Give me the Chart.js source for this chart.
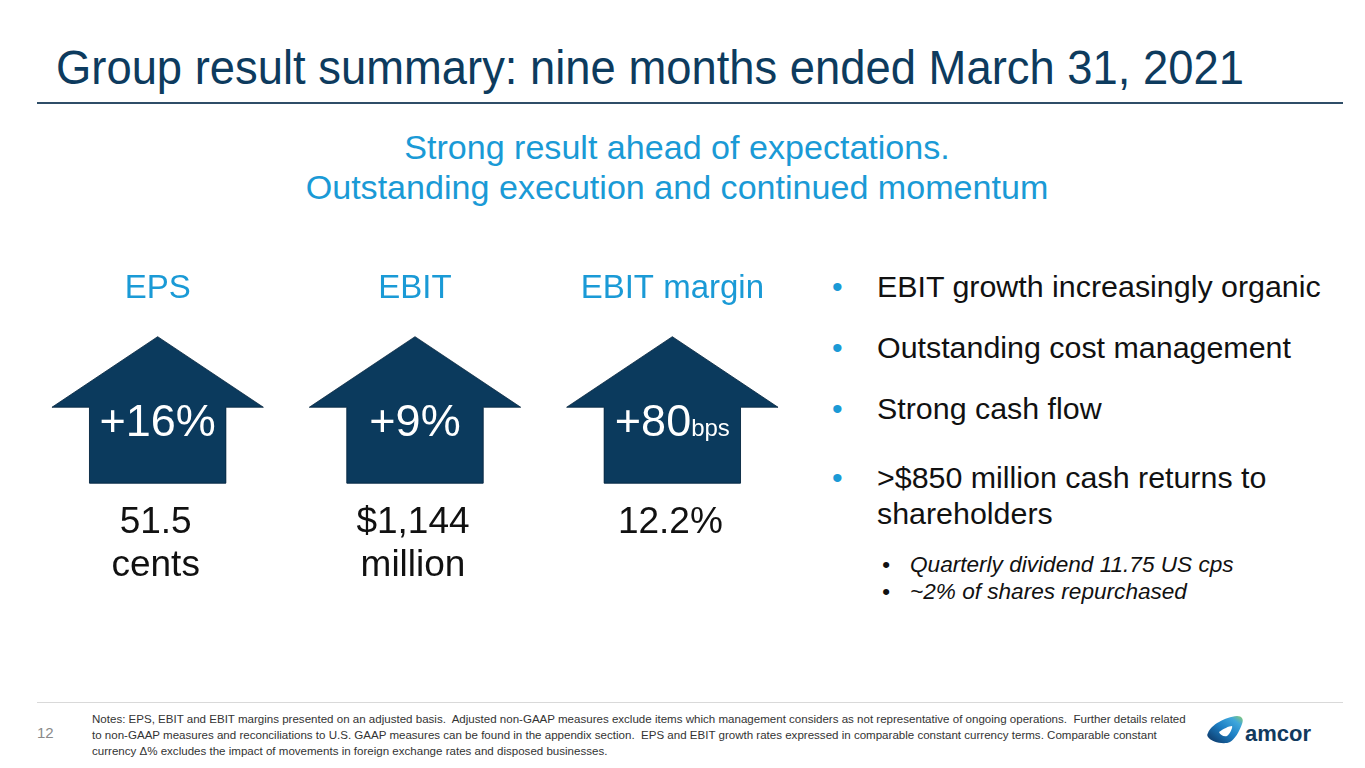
<!DOCTYPE html>
<html>
<head>
<meta charset="utf-8">
<script src="https://cdn.jsdelivr.net/npm/chart.js@4"></script>
<style>
  html, body { margin: 0; padding: 0; background: #fff; }
  body { width: 1365px; height: 768px; position: relative; overflow: hidden; font-family: "Liberation Sans", Arial, sans-serif; }
  .title { position: absolute; left: 56px; top: 39px; font-size: 49px; color: #0d3b5e; white-space: nowrap; transform: scaleX(0.926); transform-origin: left top; }
  .rule { position: absolute; left: 37px; width: 1306px; top: 102px; height: 2px; background: #2f4e68; }
  .subtitle { position: absolute; left: 0; width: 1354px; top: 127px; text-align: center; font-size: 34.1px; line-height: 40px; color: #1a9ad6; }
  .bullets { position: absolute; left: 832px; top: 268px; font-size: 30.4px; color: #111; }
  .bullets .b { position: absolute; left: 0; white-space: nowrap; }
  .bullets .dot { position: absolute; left: 0; color: #1a9ad6; line-height: 36px; }
  .bullets .txt { position: absolute; left: 45px; line-height: 36px; }
  .sub { position: absolute; left: 882px; font-size: 22.6px; line-height: 27px; font-style: italic; color: #111; white-space: nowrap; }
  .sub span { position: absolute; left: 28px; }
  .footrule { position: absolute; left: 37px; width: 1306px; top: 702px; height: 1px; background: #d9d9d9; }
  .page { position: absolute; left: 37px; top: 724px; font-size: 15px; color: #8a8a8a; }
  .notes { position: absolute; left: 92px; top: 711px; font-size: 11.55px; line-height: 16px; color: #333; white-space: nowrap; }
  .logo { position: absolute; left: 1205px; top: 712px; }
  #arrows { position: absolute; left: 29px; top: 269px; }
</style>
</head>
<body>
<div class="title">Group result summary: nine months ended March 31, 2021</div>
<div class="rule"></div>
<div class="subtitle">Strong result ahead of expectations.<br>Outstanding execution and continued momentum</div>

<canvas id="arrows" width="772" height="328"></canvas>

<div class="bullets">
  <div class="b" style="top:0"><span class="dot">•</span><span class="txt">EBIT growth increasingly organic</span></div>
  <div class="b" style="top:61px"><span class="dot">•</span><span class="txt">Outstanding cost management</span></div>
  <div class="b" style="top:122px"><span class="dot">•</span><span class="txt">Strong cash flow</span></div>
  <div class="b" style="top:191px"><span class="dot">•</span><span class="txt">&gt;$850 million cash returns to<br>shareholders</span></div>
</div>
<div class="sub" style="top:551px">•<span>Quarterly dividend 11.75 US cps</span></div>
<div class="sub" style="top:578px">•<span>~2% of shares repurchased</span></div>

<div class="footrule"></div>
<div class="page">12</div>
<div class="notes">Notes: EPS, EBIT and EBIT margins presented on an adjusted basis.&nbsp; Adjusted non-GAAP measures exclude items which management considers as not representative of ongoing operations.&nbsp; Further details related<br>to non-GAAP measures and reconciliations to U.S. GAAP measures can be found in the appendix section.&nbsp; EPS and EBIT growth rates expressed in comparable constant currency terms. Comparable constant<br>currency Δ% excludes the impact of movements in foreign exchange rates and disposed businesses.</div>
<div class="logo">
  <svg width="110" height="40" viewBox="0 0 110 40">
    <defs>
      <linearGradient id="lg" x1="0" y1="1" x2="1" y2="0">
        <stop offset="0" stop-color="#0b2f5c"/>
        <stop offset="0.5" stop-color="#1d7fc4"/>
        <stop offset="0.8" stop-color="#3fa7dc"/>
        <stop offset="1" stop-color="#8ccd6e"/>
      </linearGradient>
    </defs>
    <path d="M3 21 C6 13 20 5 32 4 C37 4 39 7 37 12 C34 20 30 27 25 30 C19 33 6 30 3 25 C2 24 2 22 3 21 Z" fill="url(#lg)"/>
    <path d="M14 20 C18 17 24 14 27 14 C28 15 25 22 22 24 C19 25 15 23 14 20 Z" fill="#fff"/>
    <text x="40" y="29" font-family="Liberation Sans, Arial, sans-serif" font-size="22" font-weight="bold" fill="#123a5e">amcor</text>
  </svg>
</div>

<script>
// Slide data
const categories = ['EPS', 'EBIT', 'EBIT margin'];
const growthValues = ['+16%', '+9%', '+80'];
const growthUnits = ['', '', 'bps'];
const levelLines = [['51.5', 'cents'], ['$1,144', 'million'], ['12.2%']];
// all three arrows are drawn the same size on the slide
const arrowLevels = [1, 1, 1];

const navy = '#0b3a5d';

// draws the arrow head on top of each bar plus the texts
const arrowPlugin = {
  id: 'arrowPlugin',
  afterDatasetsDraw(chart) {
    const ctx = chart.ctx;
    const meta = chart.getDatasetMeta(0);
    meta.data.forEach((bar, i) => {
      const half = bar.width / 2;
      const shaft = bar.base - bar.y;
      const headHalf = half * 1.55;
      const headTop = bar.y - shaft * 0.93;

      ctx.save();
      ctx.fillStyle = navy;
      ctx.strokeStyle = 'rgba(6,38,62,0.8)';
      ctx.lineWidth = 1;
      ctx.beginPath();
      ctx.moveTo(bar.x - half, bar.base);
      ctx.lineTo(bar.x - half, bar.y);
      ctx.lineTo(bar.x - headHalf, bar.y);
      ctx.lineTo(bar.x, headTop);
      ctx.lineTo(bar.x + headHalf, bar.y);
      ctx.lineTo(bar.x + half, bar.y);
      ctx.lineTo(bar.x + half, bar.base);
      ctx.closePath();
      ctx.fill();
      ctx.stroke();

      // growth figure inside the arrow
      ctx.fillStyle = '#ffffff';
      ctx.textBaseline = 'alphabetic';
      const big = '45px "Liberation Sans", Arial, sans-serif';
      const small = '24px "Liberation Sans", Arial, sans-serif';
      ctx.font = big;
      const w1 = ctx.measureText(growthValues[i]).width;
      ctx.font = small;
      const w2 = growthUnits[i] ? ctx.measureText(growthUnits[i]).width : 0;
      const x0 = bar.x - (w1 + w2) / 2;
      ctx.textAlign = 'left';
      ctx.font = big;
      ctx.fillText(growthValues[i], x0, bar.y + 29);
      if (growthUnits[i]) {
        ctx.font = small;
        ctx.fillText(growthUnits[i], x0 + w1, bar.y + 29);
      }

      // level below the arrow
      ctx.fillStyle = '#111111';
      ctx.textAlign = 'center';
      ctx.font = '37px "Liberation Sans", Arial, sans-serif';
      levelLines[i].forEach((line, k) => {
        ctx.fillText(line, bar.x - 2, bar.base + 50 + k * 43);
      });
      ctx.restore();
    });
  }
};

new Chart(document.getElementById('arrows'), {
  type: 'bar',
  data: {
    labels: categories,
    datasets: [{
      data: arrowLevels,
      backgroundColor: navy,
      borderWidth: 0,
      categoryPercentage: 1,
      barPercentage: 0.53
    }]
  },
  options: {
    responsive: false,
    animation: false,
    layout: { padding: 0 },
    plugins: { legend: { display: false }, tooltip: { enabled: false } },
    scales: {
      x: {
        position: 'top',
        grid: { display: false, drawTicks: false },
        border: { display: false },
        ticks: {
          color: '#1a9ad6',
          font: { family: '"Liberation Sans", Arial, sans-serif', size: 33 },
          padding: 0
        }
      },
      y: {
        display: false,
        min: -1.5,
        max: 2.3
      }
    }
  },
  plugins: [arrowPlugin]
});
</script>
</body>
</html>
